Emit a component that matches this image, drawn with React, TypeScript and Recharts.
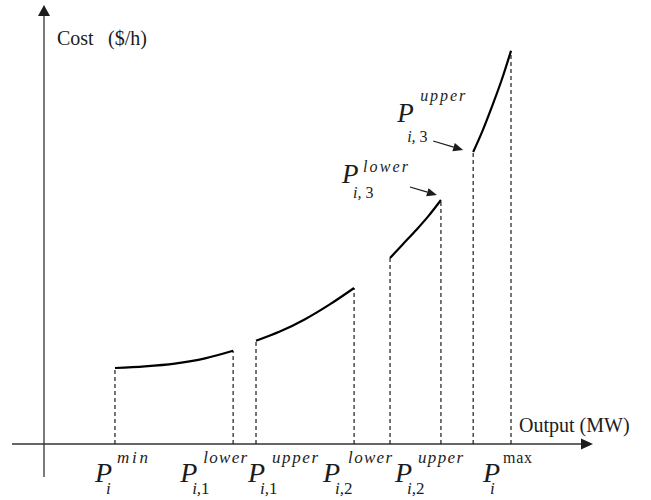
import React from 'react';
import { ComposedChart, Line, XAxis, YAxis, ReferenceLine, ReferenceDot } from 'recharts';

const zone1Output = [15.2, 21.6, 28.0, 34.5, 40.5];
const zone1Cost = [19.0, 19.4, 20.1, 21.4, 23.3];
const zone2Output = [45.4, 50.5, 55.9, 61.2, 66.4];
const zone2Cost = [25.8, 28.1, 31.2, 34.9, 39.0];
const zone3Output = [74.1, 76.9, 79.7, 82.4, 85.0];
const zone3Cost = [46.5, 50.0, 53.5, 57.1, 61.0];
const zone4Output = [91.9, 93.9, 95.9, 98.0, 100.0];
const zone4Cost = [73.0, 78.3, 84.3, 91.0, 98.3];

// labels under the output axis, one per zone boundary
const boundarySup = ['min', 'lower', 'upper', 'lower', 'upper', 'max'];
const boundarySub = ['i', 'i,1', 'i,1', 'i,2', 'i,2', 'i'];

const X_DOMAIN: [number, number] = [-6.85, 117.56];
const Y_DOMAIN: [number, number] = [-8.25, 109.75];

const INK = '#1c1c1c';
const SERIF = '"Liberation Serif", "DejaVu Serif", serif';

const toPoints = (xs: number[], ys: number[]) => xs.map((x, i) => ({ x, cost: ys[i] }));
const zones = [
    toPoints(zone1Output, zone1Cost),
    toPoints(zone2Output, zone2Cost),
    toPoints(zone3Output, zone3Cost),
    toPoints(zone4Output, zone4Cost),
];

// every zone start/end gets a dashed drop line
const boundaries = zones.flatMap((z) => [z[0], z[z.length - 1]]);

// label layout: P offset from its boundary, superscript / subscript offsets from P
const bottomLayout = [
    { dx: -20, supDx: 22, subDx: 11 },
    { dx: -53, supDx: 23, subDx: 12 },
    { dx: -8, supDx: 24, subDx: 12 },
    { dx: -31, supDx: 25, subDx: 12 },
    { dx: 5, supDx: 23, subDx: 12 },
    { dx: -28, supDx: 20, subDx: 7 },
];
const supWidths = [31, 44, 46, 44, 45, 29];
const labelPoints = [
    zones[0][0],
    zones[0][zones[0].length - 1],
    zones[1][0],
    zones[1][zones[1].length - 1],
    zones[2][0],
    zones[3][zones[3].length - 1],
];

const Sub: React.FC<{ x: number; y: number; text: string; size: number }> = ({ x, y, text, size }) => {
    const m = text.match(/^([a-z]+,\s?)(\d)$/);
    return (
        <text x={x} y={y} fontSize={size} fontFamily={SERIF} fill={INK}>
            {m ? (
                <>
                    <tspan fontStyle="italic">{m[1].replace(' ', '\u00a0')}</tspan>
                    <tspan>{m[2]}</tspan>
                </>
            ) : (
                <tspan fontStyle="italic">{text}</tspan>
            )}
        </text>
    );
};

const PSymbol: React.FC<any> = (props) => {
    const { x, y, size, sup, sub, supDx, supDy, subDx, subDy, supSize, subSize, supWidth, supUpright } = props;
    return (
        <g>
            <text x={x} y={y} fontSize={size} fontStyle="italic" fontFamily={SERIF} fill={INK}>P</text>
            <text
                x={x + supDx}
                y={y + supDy}
                fontSize={supSize}
                fontStyle={supUpright ? 'normal' : 'italic'}
                fontFamily={SERIF}
                fill={INK}
                textLength={supWidth}
                lengthAdjust="spacing"
            >
                {sup}
            </text>
            <Sub x={x + subDx} y={y + subDy} text={sub} size={subSize} />
        </g>
    );
};

const Arrow: React.FC<{ x1: number; y1: number; x2: number; y2: number; head: number }> = ({ x1, y1, x2, y2, head }) => {
    const a = Math.atan2(y2 - y1, x2 - x1);
    const bx = x2 - head * Math.cos(a);
    const by = y2 - head * Math.sin(a);
    const w = head * 0.42;
    const px = -Math.sin(a) * w;
    const py = Math.cos(a) * w;
    return (
        <g>
            <line x1={x1} y1={y1} x2={bx} y2={by} stroke={INK} strokeWidth={1.3} />
            <polygon points={`${x2},${y2} ${bx + px},${by + py} ${bx - px},${by - py}`} fill={INK} />
        </g>
    );
};

const App: React.FC = () => {
    const z3End = zones[2][zones[2].length - 1];
    const z4Start = zones[3][0];
    return (
        <div style={{ position: 'absolute', left: 0, top: 0, background: '#fff' }}>
            <ComposedChart width={651} height={500} margin={{ top: 5, right: 58, left: 12, bottom: 23 }}>
                <XAxis type="number" dataKey="x" domain={X_DOMAIN} allowDataOverflow hide />
                <YAxis type="number" dataKey="cost" domain={Y_DOMAIN} allowDataOverflow hide />

                {/* axes */}
                <ReferenceLine
                    segment={[{ x: X_DOMAIN[0], y: 0 }, { x: X_DOMAIN[1] - 2, y: 0 }]}
                    stroke="#333"
                    strokeWidth={1.3}
                    ifOverflow="visible"
                />
                <ReferenceLine
                    segment={[{ x: 0, y: Y_DOMAIN[0] }, { x: 0, y: Y_DOMAIN[1] - 2 }]}
                    stroke="#333"
                    strokeWidth={1.3}
                    ifOverflow="visible"
                />
                <ReferenceDot
                    x={X_DOMAIN[1]}
                    y={0}
                    ifOverflow="visible"
                    shape={(p: any) => (
                        <g>
                            <polygon points={`${p.cx},${p.cy} ${p.cx - 12},${p.cy - 5.5} ${p.cx - 12},${p.cy + 5.5}`} fill={INK} />
                            <text x={p.cx - 74} y={p.cy - 12} fontSize={20} fontFamily={SERIF} fill={INK}>Output (MW)</text>
                        </g>
                    )}
                />
                <ReferenceDot
                    x={0}
                    y={Y_DOMAIN[1]}
                    ifOverflow="visible"
                    shape={(p: any) => (
                        <g>
                            <polygon points={`${p.cx},${p.cy} ${p.cx - 6},${p.cy + 11} ${p.cx + 6},${p.cy + 11}`} fill={INK} />
                            <text x={p.cx + 13} y={p.cy + 40} fontSize={20} fontFamily={SERIF} fill={INK}>Cost</text>
                            <text x={p.cx + 64} y={p.cy + 40} fontSize={20} fontFamily={SERIF} fill={INK}>($/h)</text>
                        </g>
                    )}
                />

                {/* dashed drop lines at each zone boundary */}
                {boundaries.map((b, i) => (
                    <ReferenceLine
                        key={`drop-${i}`}
                        segment={[{ x: b.x, y: 0 }, { x: b.x, y: b.cost }]}
                        stroke={INK}
                        strokeWidth={1.2}
                        strokeDasharray="4 3"
                        ifOverflow="visible"
                    />
                ))}

                {zones.map((z, i) => (
                    <Line
                        key={`zone-${i}`}
                        data={z}
                        dataKey="cost"
                        type="monotone"
                        stroke="#000"
                        strokeWidth={2.2}
                        dot={false}
                        activeDot={false}
                        isAnimationActive={false}
                    />
                ))}

                {/* boundary labels under the axis */}
                {labelPoints.map((pt, i) => (
                    <ReferenceDot
                        key={`lab-${i}`}
                        x={pt.x}
                        y={0}
                        ifOverflow="visible"
                        shape={(p: any) => (
                            <PSymbol
                                x={p.cx + bottomLayout[i].dx}
                                y={p.cy + 38}
                                size={28}
                                sup={boundarySup[i]}
                                sub={boundarySub[i]}
                                supDx={bottomLayout[i].supDx}
                                supDy={-19}
                                subDx={bottomLayout[i].subDx}
                                subDy={12}
                                supSize={i === 5 ? 16 : 17}
                                subSize={17}
                                supWidth={supWidths[i]}
                                supUpright={i === 5}
                            />
                        )}
                    />
                ))}

                {/* third prohibited zone labels with arrows */}
                <ReferenceDot
                    x={z3End.x}
                    y={z3End.cost}
                    ifOverflow="visible"
                    shape={(p: any) => (
                        <g>
                            <PSymbol
                                x={p.cx - 99}
                                y={p.cy - 17}
                                size={27}
                                sup="lower"
                                sub="i, 3"
                                supDx={21}
                                supDy={-11}
                                subDx={11}
                                subDy={15}
                                supSize={16}
                                subSize={16}
                                supWidth={45}
                            />
                            <Arrow x1={p.cx - 31} y1={p.cy - 13} x2={p.cx - 4} y2={p.cy - 5} head={10} />
                        </g>
                    )}
                />
                <ReferenceDot
                    x={z4Start.x}
                    y={z4Start.cost}
                    ifOverflow="visible"
                    shape={(p: any) => (
                        <g>
                            <PSymbol
                                x={p.cx - 76}
                                y={p.cy - 30}
                                size={27}
                                sup="upper"
                                sub="i, 3"
                                supDx={23}
                                supDy={-21}
                                subDx={10}
                                subDy={20}
                                supSize={16}
                                subSize={16}
                                supWidth={45}
                            />
                            <Arrow x1={p.cx - 40} y1={p.cy - 11} x2={p.cx - 10} y2={p.cy - 2} head={10} />
                        </g>
                    )}
                />
            </ComposedChart>
        </div>
    );
};

export default App;
